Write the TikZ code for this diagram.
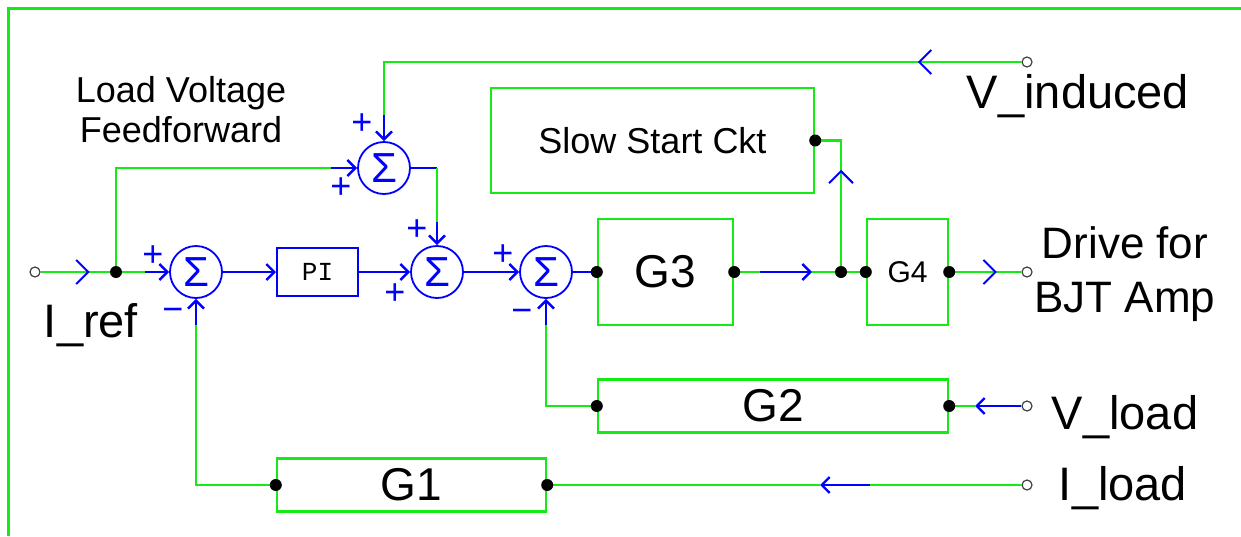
\documentclass[tikz,border=0pt]{standalone}
\usepackage{fontspec}
\setmainfont{Liberation Sans}
\setmonofont{Liberation Mono}
\usepackage{tikz}
\usetikzlibrary{arrows.meta, decorations.markings}
\definecolor{wiregreen}{RGB}{20,235,20}
\definecolor{sigblue}{RGB}{0,0,255}
\tikzstyle{blockbox} = [
    rectangle, draw=wiregreen, line width=1.2pt, inner sep=0pt,
    font=\fontsize{23}{23}\selectfont
]
\tikzstyle{summer} = [
    circle, draw=sigblue, line width=0.9pt, minimum size=26pt,
    inner sep=0pt, text=sigblue, font=\fontsize{21}{21}\selectfont
]
\tikzstyle{dot} = [circle, fill=black, minimum size=6pt, inner sep=0pt]
\tikzstyle{port} = [
    circle, draw=black!75, fill=white, line width=0.6pt,
    minimum size=5pt, inner sep=0pt
]
\tikzstyle{wire} = [draw=wiregreen, line width=1.2pt]
\tikzstyle{sigline} = [draw=sigblue, line width=1.2pt]
\tikzstyle{sig} = [sigline, -{Straight Barb[length=4pt, width=8pt]}]
\tikzstyle{sign} = [text=sigblue, inner sep=0pt, font=\fontsize{18}{18}\selectfont]
\tikzstyle{bigtxt} = [inner sep=0pt, font=\fontsize{23.5}{27}\selectfont]
\tikzstyle{frame} = [draw=wiregreen, line width=1.5pt]
\tikzset{chev/.style={postaction={decorate}, decoration={markings,
    mark=at position #1 with {\arrow[sigblue, line width=1pt]{Straight Barb[length=6pt, width=12pt]}}}}}

\begin{document}
\begin{tikzpicture}[x=0.5pt, y=-0.5pt]
        \useasboundingbox (0,0) rectangle (1241,536);
        % Frame
        \draw[frame] (8,536) -- (8,8) -- (1241,8);

        % Summers
        \node[summer] (s1) at (196,272) {Σ};
        \node[summer] (s2) at (384,168) {Σ};
        \node[summer] (s3) at (437,272) {Σ};
        \node[summer] (s4) at (546,272) {Σ};

        % Signs
        \node[sign] (p1) at (153,256) {+};
        \node[sign] (m1) at (173,315) {−};
        \node[sign] (p2a) at (362,124) {+};
        \node[sign] (p2b) at (341,188) {+};
        \node[sign] (p3a) at (417,230) {+};
        \node[sign] (p3b) at (395,294) {+};
        \node[sign] (p4) at (503,255) {+};
        \node[sign] (m4) at (522,316) {−};

        % Blocks
        \node[blockbox, draw=sigblue, line width=1pt, minimum width=40.5pt,
              minimum height=24pt, font=\ttfamily\fontsize{13}{13}\selectfont]
              (pi) at (317.5,272) {PI};
        \node[blockbox, minimum width=161.5pt, minimum height=52.5pt,
              font=\fontsize{18}{18}\selectfont] (ss) at (652.5,140.5)
            {Slow Start Ckt};
        \node[blockbox, minimum width=67.5pt, minimum height=53pt] (g3)
            at (665.5,272) {G3};
        \node[blockbox, minimum width=40.5pt, minimum height=53pt,
              font=\fontsize{15}{15}\selectfont] (g4) at (907.5,272) {G4};
        \node[blockbox, minimum width=175pt, minimum height=26.5pt] (g2)
            at (773,406) {G2};
        \node[blockbox, minimum width=134.5pt, minimum height=26.5pt] (g1)
            at (411.5,485) {G1};

        % Ports
        \node[port] (iref) at (35,272) {};
        \node[port] (vind) at (1027,62) {};
        \node[port] (drv) at (1027,272) {};
        \node[port] (vload) at (1027,406) {};
        \node[port] (iload) at (1027,485) {};

        % Branch points and colour changes
        \coordinate (br) at (116,272);
        \coordinate (jn) at (841,272);
        \coordinate (s1a) at (145,272);
        \coordinate (s1b) at (196,325);
        \coordinate (s2a) at (331,168);
        \coordinate (s2b) at (384,115);
        \coordinate (s2c) at (437,168);
        \coordinate (s3a) at (437,222);
        \coordinate (s4b) at (546,325);
        \coordinate (g3a) at (760,272);
        \coordinate (g3b) at (812,272);
        \coordinate (vl) at (975,406);
        \coordinate (il1) at (870,485);
        \coordinate (il2) at (820,485);

        % Forward path
        \draw[wire, chev=0.65] (iref) -- (br);
        \draw[wire] (br) -- (s1a);
        \draw[sig] (s1a) -- (s1);
        \draw[sig] (s1) -- (pi);
        \draw[sig] (pi) -- (s3);
        \draw[sig] (s3) -- (s4);
        \draw[sigline] (s4) -- (g3);
        \draw[wire] (g3) -- (g3a);
        \draw[sig] (g3a) -- (g3b);
        \draw[wire] (g3b) -- (jn);
        \draw[wire] (jn) -- (g4);
        \draw[wire, chev=0.66] (g4) -- (drv);
        \draw[wire, chev=0.65] (jn) |- (ss.east);

        % Feedforward
        \draw[wire] (br) |- (s2a);
        \draw[sig] (s2a) -- (s2);
        \draw[wire, chev=0.15] (vind) -| (s2b);
        \draw[sig] (s2b) -- (s2);
        \draw[sigline] (s2) -- (s2c);
        \draw[wire] (s2c) -- (s3a);
        \draw[sig] (s3a) -- (s3);

        % Feedback
        \draw[sig] (vload) -- (vl);
        \draw[wire] (vl) -- (g2.east);
        \draw[wire] (g2.west) -| (s4b);
        \draw[sig] (s4b) -- (s4);
        \draw[wire] (iload) -- (il1);
        \draw[sig] (il1) -- (il2);
        \draw[wire] (il2) -- (g1.east);
        \draw[wire] (g1.west) -| (s1b);
        \draw[sig] (s1b) -- (s1);

        % Dots
        \node[dot] (d1) at (br) {};
        \node[dot] (d2) at (g3.west) {};
        \node[dot] (d3) at (g3.east) {};
        \node[dot] (d4) at (jn) {};
        \node[dot] (d5) at (g4.west) {};
        \node[dot] (d6) at (g4.east) {};
        \node[dot] (d7) at (ss.east) {};
        \node[dot] (d8) at (g2.west) {};
        \node[dot] (d9) at (g2.east) {};
        \node[dot] (d10) at (g1.west) {};
        \node[dot] (d11) at (g1.east) {};

        % Labels
        \node[inner sep=0pt, align=center, font=\fontsize{18}{20}\selectfont]
            (tff) at (181,110) {Load Voltage\\Feedforward};
        \node[bigtxt, anchor=base] (tiref) at (91,337) {I\_ref};
        \node[bigtxt, anchor=base] (tvind) at (1078,108) {V\_induced};
        \node[bigtxt, align=center, font=\fontsize{22}{27}\selectfont]
            (tdrv) at (1125,274) {Drive for\\BJT Amp};
        \node[bigtxt, anchor=base] (tvload) at (1125,429) {V\_load};
        \node[bigtxt, anchor=base] (tiload) at (1123,500) {I\_load};
    \end{tikzpicture}
\end{document}
